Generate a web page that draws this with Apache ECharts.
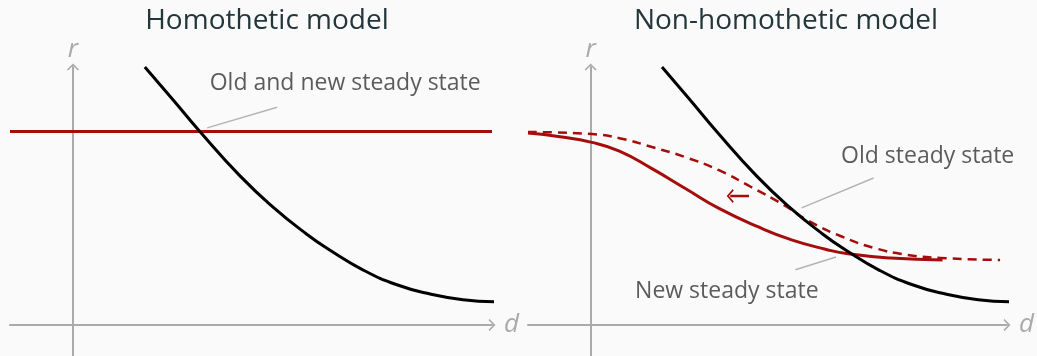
<!DOCTYPE html>
<html>
<head>
<meta charset="utf-8">
<script src="https://cdn.jsdelivr.net/npm/echarts@6/dist/echarts.min.js"></script>
<style>
  html, body { margin: 0; padding: 0; background: #fafafa; }
  #main { width: 1037px; height: 356px; }
</style>
</head>
<body>
<div id="main"></div>
<script>
// data, in axis units (d across, r up)
var demandCurve = [[1.14, 5.0], [1.59, 4.36], [2.02, 3.74], [2.65, 2.89], [3.17, 2.29], [3.71, 1.76],
                   [4.08, 1.45], [4.60, 1.07], [5.14, 0.78], [5.67, 0.60], [6.19, 0.49], [6.73, 0.45]];
var flatSupply = [[-1.0, 3.75], [6.65, 3.75]];
var newSupply = [[-1.0, 3.72], [-0.49, 3.65], [0.02, 3.54], [0.46, 3.37], [0.98, 3.03], [1.52, 2.64],
                 [2.05, 2.26], [2.68, 1.90], [3.21, 1.65], [3.75, 1.47], [4.11, 1.38], [4.79, 1.30],
                 [5.62, 1.26]];
var oldSupply = [[-1.0, 3.74], [0.02, 3.70], [0.46, 3.62], [0.98, 3.45], [1.52, 3.25], [2.05, 3.0],
                 [2.57, 2.67], [3.08, 2.33], [3.48, 2.02], [4.0, 1.72], [4.54, 1.49], [5.06, 1.36],
                 [5.59, 1.30], [6.54, 1.26]];
var shiftArrow = [[2.53, 2.5], [2.23, 2.5]];

var titles = ['Homothetic model', 'Non-homothetic model'];
var notes = [
  {grid: 0, text: 'Old and new steady state', at: [2.17, 4.69], line: [[2.13, 3.82], [3.24, 4.22]]},
  {grid: 1, text: 'Old steady state', at: [4.0, 3.27], line: [[3.37, 2.27], [4.52, 2.85]]},
  {grid: 1, text: 'New steady state', at: [0.71, 0.66], line: [[3.27, 1.07], [3.92, 1.32]]}
];

var RED = '#a50d0d';
var GREY = '#aaaaaa';
var chevron = 'path://M0,0 L6,6 L4.8,7 L0,2.2 L-4.8,7 L-6,6 Z';
var font = '"Open Sans", "Noto Sans", sans-serif';

var chart = echarts.init(document.getElementById('main'));

function xAxisFor(i) {
  return {
    type: 'value', gridIndex: i, min: -1, max: 6.65,
    splitLine: {show: false}, axisTick: {show: false}, axisLabel: {show: false},
    axisLine: {onZero: true, symbol: ['none', chevron], symbolSize: [12, 7],
               lineStyle: {color: GREY, width: 2}},
    name: 'd', nameLocation: 'end', nameGap: 12,
    nameTextStyle: {color: GREY, fontSize: 26, fontStyle: 'italic', fontFamily: font}
  };
}
function yAxisFor(i) {
  return {
    type: 'value', gridIndex: i, min: -0.6, max: 5,
    splitLine: {show: false}, axisTick: {show: false}, axisLabel: {show: false},
    axisLine: {onZero: true, symbol: ['none', chevron], symbolSize: [12, 7],
               lineStyle: {color: GREY, width: 2}},
    name: 'r', nameLocation: 'end', nameGap: 4,
    nameTextStyle: {color: GREY, fontSize: 26, fontStyle: 'italic', fontFamily: font}
  };
}

function curve(i, data, color, type, width) {
  return {
    type: 'line', xAxisIndex: i, yAxisIndex: i, data: data, smooth: 0.5,
    showSymbol: false, clip: false, silent: true,
    lineStyle: {color: color, width: width, type: type}
  };
}

var series = [
  curve(0, flatSupply, RED, 'solid', 3),
  curve(0, demandCurve, '#000', 'solid', 3),
  curve(1, oldSupply, RED, [9, 6], 2.5),
  curve(1, newSupply, RED, 'solid', 3),
  curve(1, demandCurve, '#000', 'solid', 3),
  {
    type: 'line', xAxisIndex: 1, yAxisIndex: 1, silent: true, clip: false,
    data: [{value: shiftArrow[0], symbol: 'none'},
           {value: shiftArrow[1], symbol: chevron, symbolSize: [14, 7], symbolRotate: 90}],
    showSymbol: true, itemStyle: {color: RED},
    lineStyle: {color: RED, width: 2.5}
  }
];

notes.forEach(function (n) {
  series.push({
    type: 'line', xAxisIndex: n.grid, yAxisIndex: n.grid, data: n.line,
    showSymbol: false, silent: true, clip: false,
    lineStyle: {color: '#b4b4b4', width: 1.5}
  });
  series.push({
    type: 'scatter', xAxisIndex: n.grid, yAxisIndex: n.grid, data: [n.at],
    symbolSize: 0, silent: true, clip: false,
    label: {show: true, position: 'right', distance: 0, formatter: n.text,
            color: '#333333', fontSize: 23, fontFamily: font}
  });
});

chart.setOption({
  backgroundColor: '#fafafa',
  animation: false,
  title: titles.map(function (t, i) {
    return {text: t, left: i === 0 ? 267 : 786, top: 7, textAlign: 'center', padding: 0,
            textStyle: {color: '#23373b', fontSize: 28, fontWeight: 'normal', fontFamily: font}};
  }),
  grid: [
    {left: 10, top: 67, width: 482, height: 289},
    {left: 528, top: 67, width: 482, height: 289}
  ],
  xAxis: [xAxisFor(0), xAxisFor(1)],
  yAxis: [yAxisFor(0), yAxisFor(1)],
  series: series
});
</script>
</body>
</html>
